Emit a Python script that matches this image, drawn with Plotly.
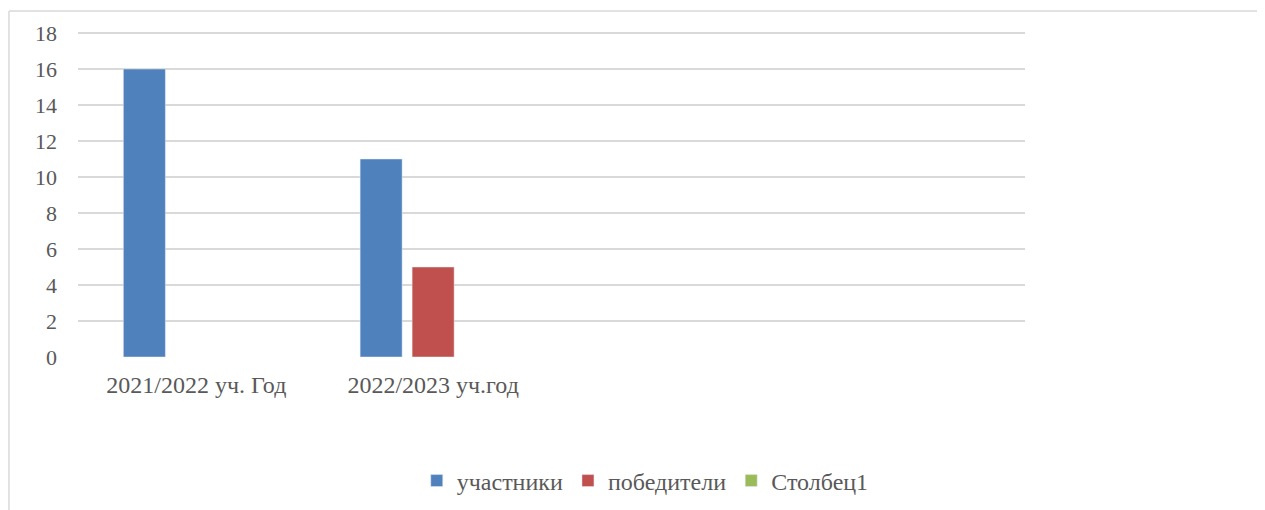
import plotly.graph_objects as go

categories = ["2021/2022 уч. Год", "2022/2023 уч.год", " ", "  "]
uchastniki = [16, 11, None, None]
pobediteli = [None, 5, None, None]
stolbec1 = [None, None, None, None]
y_ticks = [0, 2, 4, 6, 8, 10, 12, 14, 16, 18]

font_family = "Liberation Serif, Times New Roman, serif"
text_color = "#595959"

fig = go.Figure()
fig.add_trace(go.Bar(name="участники", x=categories, y=uchastniki, marker_color="#4F81BD"))
fig.add_trace(go.Bar(name="победители", x=categories, y=pobediteli, marker_color="#C0504D"))
fig.add_trace(go.Bar(name="Столбец1", x=categories, y=stolbec1, marker_color="#9BBB59"))

fig.update_layout(
    width=1257, height=502,
    margin=dict(l=70, r=240, t=21, b=153, autoexpand=False),
    paper_bgcolor="white", plot_bgcolor="white",
    barmode="group", bargap=0.341, bargroupgap=0.192,
    font=dict(family=font_family, size=22, color=text_color),
    showlegend=True,
    legend=dict(orientation="h", xref="paper", x=0.599, xanchor="center",
                yref="container", y=0.0578, yanchor="middle",
                font=dict(size=24, color=text_color), itemwidth=30,
                traceorder="normal", bgcolor="rgba(0,0,0,0)"),
    xaxis=dict(type="category", showgrid=False, zeroline=False, showline=False, automargin=False,
               ticks="", ticklabelstandoff=11, tickfont=dict(size=24, color=text_color)),
    yaxis=dict(range=[0, 18.222], tickvals=y_ticks, showgrid=True, gridcolor="#D9D9D9",
               gridwidth=1.5, zeroline=False, showline=False, ticks="", automargin=False,
               ticklabelstandoff=20, tickfont=dict(size=22, color=text_color)),
    shapes=[
        dict(type="line", xref="paper", yref="paper", x0=-0.0729, x1=1.254, y0=1.055, y1=1.055,
             line=dict(color="#D9D9D9", width=1.5)),
        dict(type="line", xref="paper", yref="paper", x0=-0.0729, x1=-0.0729, y0=1.055, y1=-0.5,
             line=dict(color="#D9D9D9", width=1.5)),
    ],
)

fig.write_html("out.html")
